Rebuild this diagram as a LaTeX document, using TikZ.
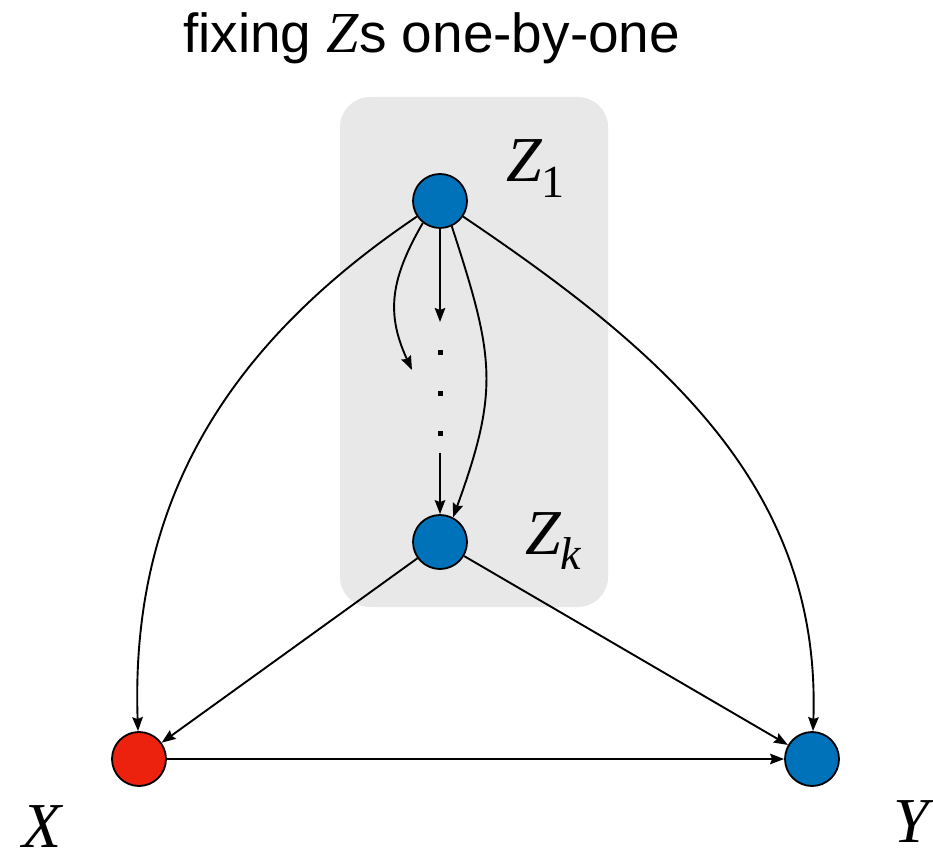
\documentclass[tikz,border=0pt]{standalone}
\usepackage{fontspec}
\setmainfont{Liberation Serif}
\newfontfamily\titlefont{Liberation Sans}
\usetikzlibrary{arrows.meta}
\definecolor{nodeblue}{RGB}{0,114,186}
\definecolor{nodered}{RGB}{237,34,14}
\definecolor{boxgray}{RGB}{232,232,232}
\begin{document}
\begin{tikzpicture}[x=1pt,y=1pt,
  vertex/.style={circle,draw=black,line width=1.8pt,minimum size=54pt,inner sep=0pt},
  edge/.style={line width=1.9pt,-{Stealth[length=14pt,width=10.5pt,inset=2pt]}},
  biglabel/.style={inner sep=0pt,anchor=base west,font=\fontsize{64}{64}\selectfont\itshape},
  dotbox/.style={rectangle,fill=black,minimum size=5pt,inner sep=0pt}]
\useasboundingbox (0,0) rectangle (933,854);
\fill[boxgray,rounded corners=30pt] (340,247) rectangle (608,757);
\node[inner sep=0pt,anchor=base west,font=\titlefont\fontsize{55}{55}\selectfont] (title) at (183,801)
  {fixing {\rmfamily\itshape\fontsize{58}{58}\selectfont Z}s one-by-one};
\node[vertex,fill=nodeblue] (z1) at (440,653) {};
\node[vertex,fill=nodeblue] (zk) at (440,312) {};
\node[vertex,fill=nodered] (x) at (139,95) {};
\node[vertex,fill=nodeblue] (y) at (812,95) {};
\node[biglabel] (lz1) at (506,672) {Z\raisebox{-16pt}{\upshape\fontsize{46}{46}\selectfont 1}};
\node[biglabel] (lzk) at (525,299) {Z\raisebox{-15pt}{\fontsize{46}{46}\selectfont k}};
\node[biglabel] (lx) at (22,7) {X};
\node[biglabel] (ly) at (893,12) {Y};
\node[dotbox] (d1) at (440,501) {};
\node[dotbox] (d2) at (440,460) {};
\node[dotbox] (d3) at (440,420) {};
\coordinate (dtop) at (440,532);
\coordinate (dbot) at (440,401);
\coordinate (cleft) at (412,484);
\draw[edge] (z1) -- (dtop);
\draw[edge] (dbot) -- (zk);
\draw[edge] (z1.232) to[out=240,in=115,looseness=1.1] (cleft);
\draw[edge] (z1.-65) to[out=-72,in=70,looseness=1.2] (zk.62);
\draw[edge] (z1) to[out=214,in=92] (x);
\draw[edge] (z1) to[out=-34,in=88] (y);
\draw[edge] (zk) -- (x);
\draw[edge] (zk) -- (y);
\draw[edge] (x) -- (y);
\end{tikzpicture}
\end{document}
